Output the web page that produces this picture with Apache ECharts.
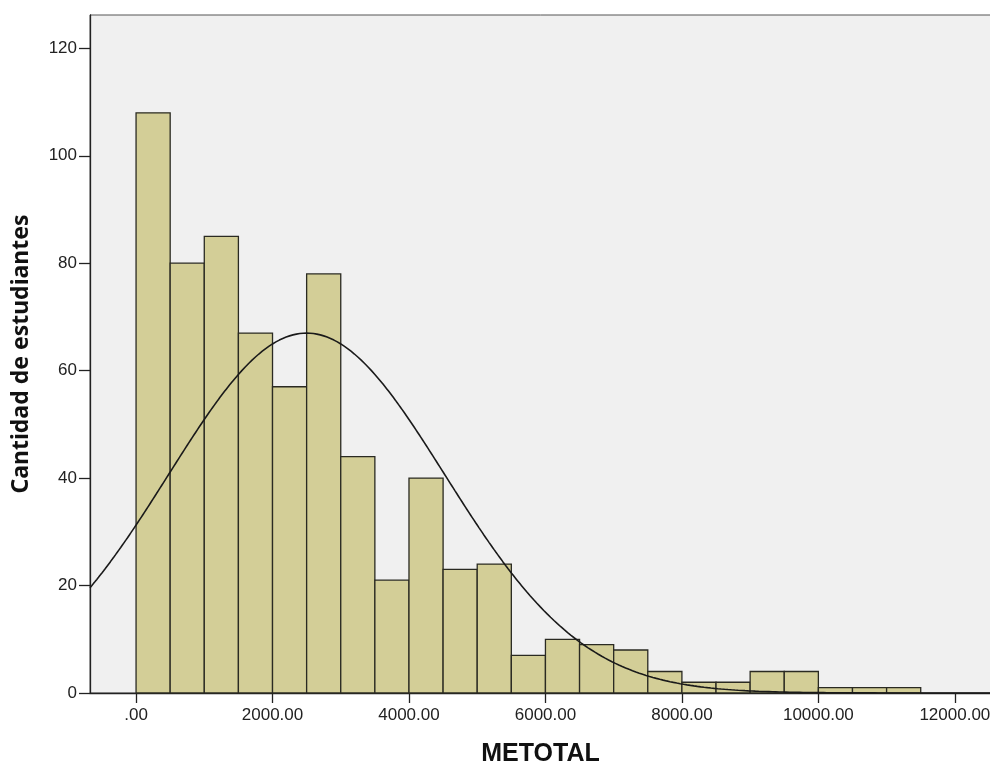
<!DOCTYPE html>
<html>
<head>
<meta charset="utf-8">
<script src="https://cdn.jsdelivr.net/npm/echarts@6/dist/echarts.min.js"></script>
<style>
  html, body { margin: 0; padding: 0; background: #ffffff; }
  #chart { width: 990px; height: 765px; }
</style>
</head>
<body>
<div id="chart"></div>
<script>
// Histogram of METOTAL: bins of width 500 starting at 0
const binWidth = 500;
const binStarts = [0, 500, 1000, 1500, 2000, 2500, 3000, 3500, 4000, 4500, 5000, 5500,
                   6000, 6500, 7000, 7500, 8000, 8500, 9000, 9500, 10000, 10500, 11000];
const counts = [108, 80, 85, 67, 57, 78, 44, 21, 40, 23, 24, 7,
                10, 9, 8, 4, 2, 2, 4, 4, 1, 1, 1];

// Fitted normal curve parameters
const curveMean = 2500;
const curveSd = 2025;
const sampleSize = 680;

// Axis tick labels
const xTicks = [0, 2000, 4000, 6000, 8000, 10000, 12000];
const xTickLabels = ['.00', '2000.00', '4000.00', '6000.00', '8000.00', '10000.00', '12000.00'];
const yTicks = [0, 20, 40, 60, 80, 100, 120];

const xMin = -675, xMax = 12530;

const barData = binStarts.map((s, i) => [s, s + binWidth, counts[i]]);

// Expected frequency per bin under the fitted normal distribution
const curveData = [];
for (let x = xMin; x <= xMax; x += 25) {
  const z = (x - curveMean) / curveSd;
  const y = sampleSize * binWidth / (curveSd * Math.sqrt(2 * Math.PI)) * Math.exp(-0.5 * z * z);
  curveData.push([x, y]);
}

const chart = echarts.init(document.getElementById('chart'), null, { renderer: 'canvas' });
const font = '"Liberation Sans", Arial, sans-serif';

chart.setOption({
  animation: false,
  backgroundColor: '#ffffff',
  grid: {
    left: 90, top: 15, right: -1, bottom: 72,
    outerBoundsMode: 'none', containLabel: false,
    show: true, backgroundColor: '#f0f0f0', borderColor: '#555555', borderWidth: 1
  },
  xAxis: {
    type: 'value', min: xMin, max: xMax,
    name: 'METOTAL', nameLocation: 'middle', nameGap: 49,
    nameTextStyle: { fontFamily: font, fontSize: 25, fontWeight: 'bold', color: '#111' },
    axisLine: { show: true, onZero: false, lineStyle: { color: '#222', width: 1.3 } },
    axisTick: { show: true, length: 10, customValues: xTicks, lineStyle: { color: '#222', width: 1.3 } },
    axisLabel: {
      customValues: xTicks, margin: 14,
      fontFamily: font, fontSize: 17, color: '#222',
      formatter: v => xTickLabels[xTicks.indexOf(v)]
    },
    splitLine: { show: false }
  },
  yAxis: {
    type: 'value', min: 0, max: 126.2,
    name: 'Cantidad de estudiantes', nameLocation: 'middle', nameGap: 57,
    nameTextStyle: { fontFamily: '"Noto Sans", "Open Sans", sans-serif', fontSize: 23, fontWeight: 'bold', color: '#111' },
    axisLine: { show: true, onZero: false, lineStyle: { color: '#222', width: 1.3 } },
    axisTick: { show: true, length: 11, customValues: yTicks, lineStyle: { color: '#222', width: 1.3 } },
    axisLabel: {
      customValues: yTicks, margin: 13, fontFamily: font, fontSize: 17, color: '#222'
    },
    splitLine: { show: false }
  },
  series: [
    {
      type: 'custom',
      data: barData,
      encode: { x: [0, 1], y: 2 },
      renderItem: function (params, api) {
        const p0 = api.coord([api.value(0), api.value(2)]);
        const p1 = api.coord([api.value(1), 0]);
        return {
          type: 'rect',
          shape: { x: p0[0], y: p0[1], width: p1[0] - p0[0], height: p1[1] - p0[1] },
          style: { fill: '#d3ce97', stroke: '#2a2a22', lineWidth: 1.3 }
        };
      },
      z: 2
    },
    {
      type: 'line',
      data: curveData,
      showSymbol: false,
      smooth: false,
      lineStyle: { color: '#1a1a1a', width: 1.6 },
      z: 3
    }
  ]
});
</script>
</body>
</html>
